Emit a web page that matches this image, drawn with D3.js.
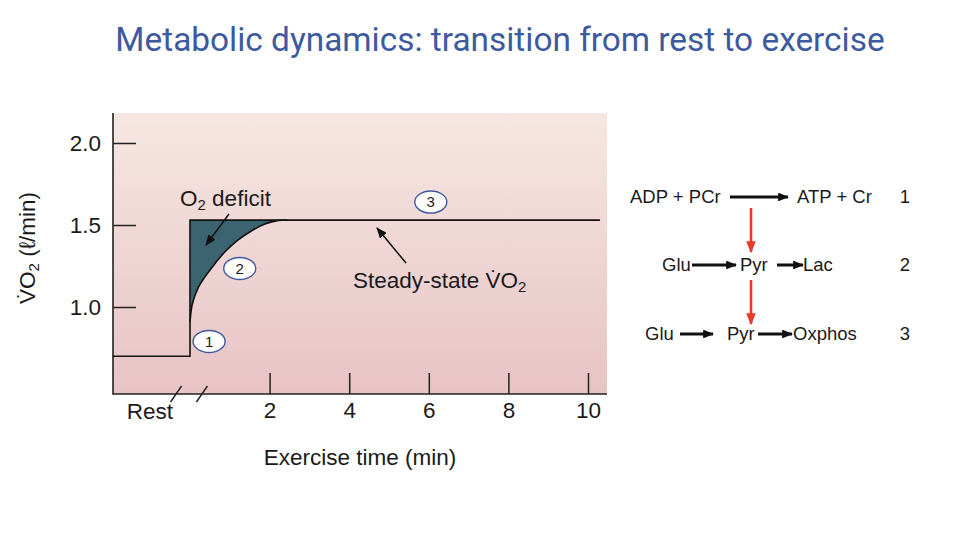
<!DOCTYPE html>
<html>
<head>
<meta charset="utf-8">
<script src="https://cdn.jsdelivr.net/npm/d3@7"></script>
<style>
  body { margin: 0; background: #fff; }
  svg { display: block; }
  text { font-family: "Liberation Sans", Arial, sans-serif; fill: #1a1a1a; }
</style>
</head>
<body>
<svg id="chart" width="960" height="540"></svg>
<script>
// data
const xTicks = [2, 4, 6, 8, 10];
const yTicks = [1.0, 1.5, 2.0];
const restTime = [-1.94, 0];
const restVO2 = 0.7;
const steadyVO2 = 1.53;
const steadyEnd = 10.3;
const breakTimes = [-0.35, 0.3];
const curveTime = [0, 0.06, 0.21, 0.38, 0.63, 0.88, 1.21, 1.55, 1.88, 2.22, 2.45];
const curveVO2 = [0.91, 1.02, 1.12, 1.185, 1.266, 1.337, 1.409, 1.465, 1.506, 1.528, 1.53];
const stageLabels = ["1", "2", "3"];
const stagePoints = [[0.48, 0.79], [1.25, 1.235], [6.05, 1.64]];
const reactionRows = [
  ["ADP + PCr", "ATP + Cr"],
  ["Glu", "Pyr", "Lac"],
  ["Glu", "Pyr", "Oxphos"],
];

const svg = d3.select("#chart");

// title
svg.append("text")
  .attr("x", 500).attr("y", 51)
  .attr("text-anchor", "middle")
  .style("font-family", "Roboto, sans-serif")
  .style("font-size", "33.4px")
  .style("fill", "#3d5a9e")
  .text("Metabolic dynamics: transition from rest to exercise");

// panel
const panel = { left: 113, right: 607, top: 113, bottom: 394 };
const x = d3.scaleLinear().domain([0, 10]).range([190, 588]);
const y = d3.scaleLinear().domain([1, 2]).range([307, 143]);
const fs = "22.5px";

const defs = svg.append("defs");
const grad = defs.append("linearGradient").attr("id", "bg")
  .attr("x1", 0).attr("y1", 0).attr("x2", 0).attr("y2", 1);
grad.append("stop").attr("offset", "0%").attr("stop-color", "#f6e7e2");
grad.append("stop").attr("offset", "100%").attr("stop-color", "#e7c3c5");

const arrowHead = (id, color, size) => defs.append("marker")
  .attr("id", id).attr("viewBox", "0 0 10 10")
  .attr("refX", 9).attr("refY", 5)
  .attr("markerWidth", size).attr("markerHeight", size * 0.8)
  .attr("markerUnits", "userSpaceOnUse")
  .attr("orient", "auto")
  .attr("preserveAspectRatio", "none")
  .append("path").attr("d", "M0,0 L10,5 L0,10 z").attr("fill", color);
arrowHead("ah", "#111", 11);
arrowHead("ahs", "#111", 11);
arrowHead("ahr", "#e8392b", 12);

svg.append("rect")
  .attr("x", panel.left).attr("y", panel.top)
  .attr("width", panel.right - panel.left)
  .attr("height", panel.bottom - panel.top)
  .attr("fill", "url(#bg)");

// axes
const xAxis = d3.axisBottom(x).tickValues(xTicks)
  .tickSizeInner(-21).tickSizeOuter(0).tickPadding(8)
  .tickFormat(d3.format("d"));
const gx = svg.append("g")
  .attr("transform", `translate(0,${panel.bottom})`)
  .call(xAxis);
gx.select(".domain").remove();
gx.selectAll("line").attr("stroke", "#222").attr("stroke-width", 1.5);
gx.selectAll("text").style("font-size", fs).style("font-family", "Liberation Sans, Arial, sans-serif").attr("fill", "#1a1a1a");

const yAxis = d3.axisLeft(y).tickValues(yTicks)
  .tickSizeInner(-23).tickSizeOuter(0).tickPadding(12)
  .tickFormat(d3.format(".1f"));
const gy = svg.append("g")
  .attr("transform", `translate(${panel.left},0)`)
  .call(yAxis);
gy.select(".domain").remove();
gy.selectAll("line").attr("stroke", "#222").attr("stroke-width", 1.5);
gy.selectAll("text").style("font-size", fs).style("font-family", "Liberation Sans, Arial, sans-serif").attr("fill", "#1a1a1a");

svg.append("path")
  .attr("d", `M${panel.left},${panel.top} V${panel.bottom} H${panel.right}`)
  .attr("fill", "none").attr("stroke", "#222").attr("stroke-width", 1.6);

// axis breaks
breakTimes.forEach(t => {
  svg.append("line")
    .attr("x1", x(t) + 5.5).attr("y1", panel.bottom - 8)
    .attr("x2", x(t) - 5.5).attr("y2", panel.bottom + 8)
    .attr("stroke", "#222").attr("stroke-width", 1.4);
});
svg.append("text")
  .attr("x", 150).attr("y", 419)
  .attr("text-anchor", "middle")
  .style("font-size", fs)
  .text("Rest");

svg.append("text")
  .attr("x", 360).attr("y", 465)
  .attr("text-anchor", "middle")
  .style("font-size", fs)
  .text("Exercise time (min)");

// y title
const yt = svg.append("text")
  .attr("transform", "translate(35,248) rotate(-90)")
  .attr("text-anchor", "middle")
  .style("font-size", fs);
yt.append("tspan").text("V\u0307O");
yt.append("tspan").attr("baseline-shift", "-25%").style("font-size", "15px").text("2");
yt.append("tspan").text(" (\u2113/min)");

// O2 deficit area
const curve = curveTime.map((t, i) => ({ t, v: curveVO2[i] }));
const smooth = d3.curveCatmullRom.alpha(0.5);
svg.append("path")
  .datum(curve)
  .attr("d", d3.area().x(d => x(d.t)).y0(y(steadyVO2)).y1(d => y(d.v)).curve(smooth))
  .attr("fill", "#3b6470");
svg.append("path")
  .datum(curve)
  .attr("d", d3.line().x(d => x(d.t)).y(d => y(d.v)).curve(smooth))
  .attr("fill", "none").attr("stroke", "#111").attr("stroke-width", 1.6);

// rest + step + steady-state
const stepPts = [
  [restTime[0], restVO2], [restTime[1], restVO2],
  [0, steadyVO2], [steadyEnd, steadyVO2],
];
svg.append("path")
  .attr("d", d3.line().x(d => x(d[0])).y(d => y(d[1]))(stepPts))
  .attr("fill", "none").attr("stroke", "#111").attr("stroke-width", 1.6);

// annotations
const ann = svg.append("text").attr("x", 180).attr("y", 206).style("font-size", fs);
ann.append("tspan").text("O");
ann.append("tspan").attr("baseline-shift", "-25%").style("font-size", "15px").text("2");
ann.append("tspan").text(" deficit");
svg.append("line")
  .attr("x1", 229).attr("y1", 214).attr("x2", 206).attr("y2", 245)
  .attr("stroke", "#111").attr("stroke-width", 1.5).attr("marker-end", "url(#ah)");

const ss = svg.append("text").attr("x", 353).attr("y", 288).style("font-size", fs);
ss.append("tspan").text("Steady-state V\u0307O");
ss.append("tspan").attr("baseline-shift", "-25%").style("font-size", "15px").text("2");
svg.append("line")
  .attr("x1", 406).attr("y1", 263).attr("x2", 377).attr("y2", 228)
  .attr("stroke", "#111").attr("stroke-width", 1.5).attr("marker-end", "url(#ah)");

// stage markers
const stages = svg.append("g").selectAll("g")
  .data(stageLabels.map((s, i) => ({ s, p: stagePoints[i] })))
  .join("g")
  .attr("transform", d => `translate(${x(d.p[0])},${y(d.p[1])})`);
stages.append("ellipse")
  .attr("rx", 16).attr("ry", 11)
  .attr("fill", "#fff").attr("stroke", "#3d5a9e").attr("stroke-width", 1.4);
stages.append("text")
  .attr("text-anchor", "middle").attr("dy", "0.36em")
  .style("font-size", "15px")
  .text(d => d.s);

// reaction scheme
const rx = svg.append("g").style("font-size", "18.5px");
const rowY = [203, 271, 340];
const rowLayout = [
  { text: [630, 797], arrows: [[730, 788]] },
  { text: [662, 740, 803], arrows: [[692, 736], [777, 803]] },
  { text: [645, 727, 793], arrows: [[680, 713], [758, 792]] },
];
reactionRows.forEach((row, i) => {
  row.forEach((label, j) => {
    rx.append("text").attr("x", rowLayout[i].text[j]).attr("y", rowY[i]).text(label);
  });
  rowLayout[i].arrows.forEach(a => {
    rx.append("line")
      .attr("x1", a[0]).attr("x2", a[1])
      .attr("y1", rowY[i] - 6).attr("y2", rowY[i] - 6)
      .attr("stroke", "#111").attr("stroke-width", 3)
      .attr("marker-end", "url(#ahs)");
  });
  rx.append("text").attr("x", 905).attr("y", rowY[i]).attr("text-anchor", "middle").text(stageLabels[i]);
});
[[208, 252], [280, 324]].forEach(r => {
  rx.append("line")
    .attr("x1", 751).attr("x2", 751).attr("y1", r[0]).attr("y2", r[1])
    .attr("stroke", "#e8392b").attr("stroke-width", 2.6)
    .attr("marker-end", "url(#ahr)");
});
</script>
</body>
</html>
